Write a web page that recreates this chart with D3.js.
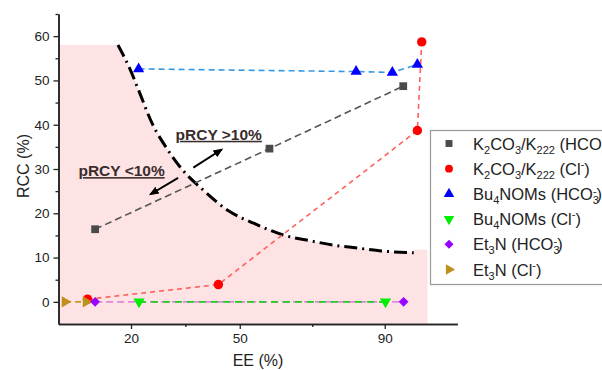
<!DOCTYPE html>
<html>
<head>
<meta charset="utf-8">
<script src="https://cdn.jsdelivr.net/npm/d3@7"></script>
<style>
  body { margin: 0; background: #fff; }
  text { font-family: "Liberation Sans", Arial, sans-serif; }
</style>
</head>
<body>
<div id="canvas"></div>
<script>
// values (EE %, RCC %)
var k2HcoEE = [10.1, 58.2, 95.1]
var k2HcoRCC = [16.4, 34.6, 48.7]
var k2ClEE = [8.0, 44.1, 99.0, 100.2]
var k2ClRCC = [0.6, 3.9, 38.7, 58.7]
var buHcoEE = [22.1, 82.1, 92.1, 99.0]
var buHcoRCC = [52.6, 52.0, 51.8, 53.6]
var buClEE = [22.2, 90.2]
var buClRCC = [0, 0]
var etHcoEE = [10.1, 95.2]
var etHcoRCC = [0, 0]
var etClEE = [1.8, 7.6]
var etClRCC = [0, 0]

// pRCY = 10 % border
var curveEE = [16.4, 19.7, 22, 26, 30, 34, 40, 47, 54, 62, 70, 76, 83, 89, 98]
var curveRCC = [58, 52.6, 48, 40, 34.5, 30, 25.2, 20.5, 17.7, 15.1, 13.7, 12.8, 12.1, 11.5, 11.1]
var shadeRight = 101.8
var shadeTop = 58

var xTicks = [20, 50, 90]
var xMinor = [35, 70]
var yTicks = [0, 10, 20, 30, 40, 50, 60]
var yMinor = [5, 15, 25, 35, 45, 55, 65]

var width = 602
var height = 370

var svg = d3.select("#canvas")
    .append("svg")
    .attr("width", width)
    .attr("height", height)

var xScale = d3.scaleLinear().domain([0, 110]).range([58.5, 457.25])
var yScale = d3.scaleLinear().domain([-5, 65]).range([324, 14])

function zip(xs, ys) {
    return xs.map(function (x, i) { return [x, ys[i]] })
}

// pink region under the border
var shade = [[0, shadeTop]].concat(zip(curveEE, curveRCC))
shade.push([curveEE[curveEE.length - 1], 11.8])
shade.push([shadeRight, 11.8])
shade.push([shadeRight, -5])
shade.push([0, -5])

svg.append("path")
    .attr("d", d3.line().x(d => xScale(d[0])).y(d => yScale(d[1]))(shade) + "Z")
    .attr("fill", "#fde3e3")

// border curve
svg.append("path")
    .attr("d", d3.line().curve(d3.curveMonotoneX).x(d => xScale(d[0])).y(d => yScale(d[1]))(zip(curveEE, curveRCC)))
    .attr("fill", "none")
    .attr("stroke", "#000")
    .attr("stroke-width", 3)
    .attr("stroke-dasharray", "13,5,2,5")

var series = [
    { name: "k2hco", ee: k2HcoEE, rcc: k2HcoRCC, line: "#555555", color: "#4a4a4a", sym: d3.symbolSquare, size: 60, rot: 0, dash: "7,4" },
    { name: "k2cl", ee: k2ClEE, rcc: k2ClRCC, line: "#ff6060", color: "#ff0000", sym: d3.symbolCircle, size: 70, rot: 0, dash: "5,4" },
    { name: "buhco", ee: buHcoEE, rcc: buHcoRCC, line: "#3399e6", color: "#0000ff", sym: d3.symbolTriangle, size: 55, rot: 0, dash: "6,4" },
    { name: "etcl", ee: etClEE, rcc: etClRCC, line: "#c8962a", color: "#c0901c", sym: d3.symbolTriangle, size: 55, rot: 90, dash: "6,4" },
    { name: "ethco", ee: etHcoEE, rcc: etHcoRCC, line: "#dd88dd", color: "#9900ff", sym: d3.symbolSquare, size: 48, rot: 45, dash: "7,4" },
    { name: "bucl", ee: buClEE, rcc: buClRCC, line: "#22cc22", color: "#00ee00", sym: d3.symbolTriangle, size: 55, rot: 180, dash: "7,5" }
]

var line = d3.line().x(d => xScale(d[0])).y(d => yScale(d[1]))

series.forEach(function (s) {
    svg.append("path")
        .attr("d", line(zip(s.ee, s.rcc)))
        .attr("fill", "none")
        .attr("stroke", s.line)
        .attr("stroke-width", 1.6)
        .attr("stroke-dasharray", s.dash)
})

series.forEach(function (s) {
    svg.selectAll(".m-" + s.name)
        .data(zip(s.ee, s.rcc))
        .enter()
        .append("path")
        .attr("class", "m-" + s.name)
        .attr("d", d3.symbol().type(s.sym).size(s.size))
        .attr("transform", d => `translate(${xScale(d[0])},${yScale(d[1])}) rotate(${s.rot})`)
        .attr("fill", s.color)
})

// annotations
svg.append("defs").append("marker")
    .attr("id", "head")
    .attr("viewBox", "0 0 10 10")
    .attr("refX", 8).attr("refY", 5)
    .attr("markerWidth", 5).attr("markerHeight", 5)
    .attr("orient", "auto")
    .append("path")
    .attr("d", "M0,1 L10,5 L0,9 Z")
    .attr("fill", "#000")

var arrows = [[[37.2, 30.3], [45.0, 34.4]], [[33.0, 28.0], [25.4, 24.3]]]
arrows.forEach(function (a) {
    svg.append("line")
        .attr("x1", xScale(a[0][0])).attr("y1", yScale(a[0][1]))
        .attr("x2", xScale(a[1][0])).attr("y2", yScale(a[1][1]))
        .attr("stroke", "#000")
        .attr("stroke-width", 2)
        .attr("marker-end", "url(#head)")
})

var notes = [{ t: "pRCY >10%", ee: 32.3, rcc: 36.6 }, { t: "pRCY <10%", ee: 5.5, rcc: 28.4 }]
notes.forEach(function (n) {
    svg.append("text")
        .attr("x", xScale(n.ee))
        .attr("y", yScale(n.rcc))
        .attr("font-size", 15.5)
        .attr("font-weight", "bold")
        .attr("fill", "#3a2c2c")
        .attr("text-decoration", "underline")
        .text(n.t)
})

// axes
svg.append("g")
    .attr("transform", `translate(0,${yScale(-5)})`)
    .call(d3.axisBottom(xScale).tickValues(xTicks).tickSize(5).tickSizeOuter(0).tickPadding(4))
svg.append("g")
    .attr("transform", `translate(0,${yScale(-5)})`)
    .call(d3.axisBottom(xScale).tickValues(xMinor).tickSize(3).tickSizeOuter(0).tickFormat(""))

svg.append("g")
    .attr("transform", `translate(${xScale(0)},0)`)
    .call(d3.axisLeft(yScale).tickValues(yTicks).tickSize(5).tickSizeOuter(0).tickPadding(4))
svg.append("g")
    .attr("transform", `translate(${xScale(0)},0)`)
    .call(d3.axisLeft(yScale).tickValues(yMinor).tickSize(3).tickSizeOuter(0).tickFormat(""))

svg.selectAll(".domain").attr("stroke", "#222").attr("stroke-width", 1.5)
svg.selectAll(".tick line").attr("stroke", "#222").attr("stroke-width", 1.3)
svg.selectAll(".tick text")
    .attr("font-size", 13.5)
    .attr("fill", "#222")
    .style("font-family", "'Liberation Sans', Arial, sans-serif")

svg.append("text")
    .attr("x", 258).attr("y", 366)
    .attr("text-anchor", "middle")
    .attr("font-size", 16)
    .attr("fill", "#222")
    .text("EE (%)")

svg.append("text")
    .attr("transform", "translate(29,166) rotate(-90)")
    .attr("text-anchor", "middle")
    .attr("font-size", 16)
    .attr("fill", "#222")
    .text("RCC (%)")

// legend
var legendItems = [
    { s: series[0], parts: [["K", 0], ["2", -1], ["CO", 0], ["3", -1], ["/K", 0], ["222", -1], [" (HCO", 0], ["3", -1], ["-", 2], [")", 0]] },
    { s: series[1], parts: [["K", 0], ["2", -1], ["CO", 0], ["3", -1], ["/K", 0], ["222", -1], [" (Cl", 0], ["-", 1], [")", 0]] },
    { s: series[2], parts: [["Bu", 0], ["4", -1], ["NOMs (HCO", 0], ["3", -1], ["-", 2], [")", 0]] },
    { s: series[5], parts: [["Bu", 0], ["4", -1], ["NOMs (Cl", 0], ["-", 1], [")", 0]] },
    { s: series[4], parts: [["Et", 0], ["3", -1], ["N (HCO", 0], ["3", -1], ["-", 2], [")", 0]] },
    { s: series[3], parts: [["Et", 0], ["3", -1], ["N (Cl", 0], ["-", 1], [")", 0]] }
]

var legend = svg.append("g")
legend.append("rect")
    .attr("x", 430.5).attr("y", 130.5)
    .attr("width", 190).attr("height", 154)
    .attr("fill", "#fff")
    .attr("stroke", "#999")
    .attr("stroke-width", 1.2)

legendItems.forEach(function (item, i) {
    var y = 143.5 + i * 25.2
    legend.append("path")
        .attr("d", d3.symbol().type(item.s.sym).size(item.s.rot === 45 ? 40 : 48))
        .attr("transform", `translate(449,${y}) rotate(${item.s.rot})`)
        .attr("fill", item.s.color)
    var t = legend.append("text")
        .attr("x", 473).attr("y", y + 6)
        .attr("font-size", 16.5)
        .attr("fill", "#222")
    item.parts.forEach(function (p, k) {
        var ts = t.append("tspan").text(p[0])
        if (p[1] === -1) ts.attr("font-size", 11).attr("dy", 4)
        if (p[1] === 1) ts.attr("font-size", 11).attr("dy", -7)
        if (p[1] === 2) ts.attr("font-size", 11).attr("dy", -9).attr("dx", -6)
        if (p[1] === 0) {
            var prev = item.parts[k - 1]
            if (prev && prev[1] === -1) ts.attr("dy", -4)
            if (prev && prev[1] === 1) ts.attr("dy", 7)
            if (prev && prev[1] === 2) ts.attr("dy", 5)
        }
    })
})
</script>
</body>
</html>
